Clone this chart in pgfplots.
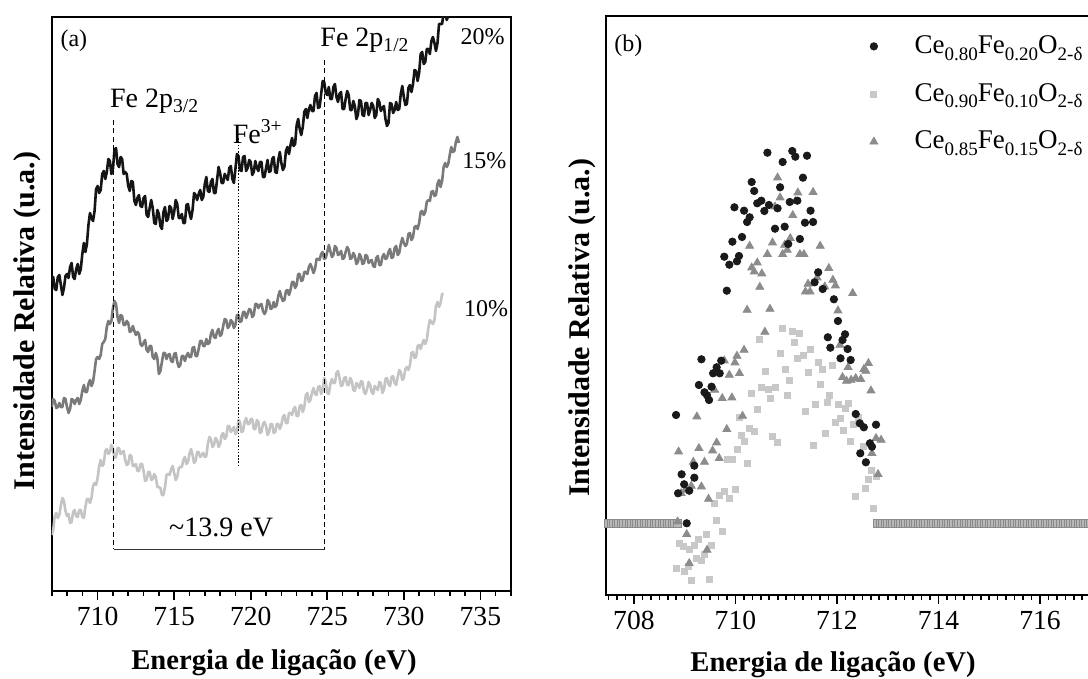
\documentclass[border=0pt]{standalone}
\usepackage{pgfplots}
\pgfplotsset{compat=1.18}
\usepackage{fontspec}
\setmainfont{Liberation Serif}
\definecolor{c20}{HTML}{151515}
\definecolor{c15}{HTML}{7A7A7A}
\definecolor{c10}{HTML}{C4C4C4}
\definecolor{csq}{HTML}{C8C8C8}
\definecolor{ctri}{HTML}{8C8C8C}
\definecolor{ccirc}{HTML}{1A1A1A}
\definecolor{cbase}{HTML}{B8B8B8}
\definecolor{cbaseedge}{HTML}{8A8A8A}
\newcommand{\lsub}[1]{\raisebox{-0.55ex}{\fontsize{9.5}{10}\selectfont #1}}
\begin{document}
\begin{tikzpicture}
\pgfplotsset{
  panel/.style={
    scale only axis,
    axis line style={line width=1pt},
    ytick=\empty,
    xtick pos=left,
    tick align=outside,
    major tick length=4.5pt,
    minor tick length=2.5pt,
    every tick/.append style={black, line width=0.8pt},
    tick label style={font=\fontsize{13.8}{16}\selectfont},
    xlabel style={font=\bfseries\fontsize{14.3}{17}\selectfont},
    ylabel style={font=\bfseries\fontsize{15}{18}\selectfont},
    /pgf/number format/assume math mode=true,
    /pgf/number format/1000 sep={},
  }
}
% ---------------- panel (a) ----------------
\begin{axis}[panel, at={(25.85pt,44pt)}, anchor=south west,
  width=229.65pt, height=287.15pt,
  xmin=707, xmax=737, ymin=1, ymax=575.3,
  xtick={710,715,...,735}, minor xtick={707,708,...,737},
  xlabel={Energia de ligação (eV)}, ylabel={Intensidade Relativa (u.a.)},
  xlabel style={at={(axis description cs:0.484,-0.136)}, anchor=base},
  ylabel style={at={(axis description cs:-0.0383,0.47)}, anchor=base},
]
\addplot[c10, line width=1.3pt, line join=round] coordinates {
(707.0,57)(707.1,62)(707.2,76)(707.3,79)(707.4,74)(707.5,77)(707.6,87)(707.7,94)(707.8,91)(707.9,81)
(708.0,76)(708.1,78)(708.2,69)(708.3,70)(708.4,80)(708.5,82)(708.6,76)(708.7,75)(708.8,82)(708.9,82)
(709.0,75)(709.1,74)(709.2,85)(709.3,93)(709.4,93)(709.5,89)(709.6,94)(709.7,106)(709.8,109)(709.9,107)
(710.0,114)(710.1,126)(710.2,132)(710.3,126)(710.4,128)(710.5,141)(710.6,143)(710.7,138)(710.8,140)(710.9,147)
(711.0,143)(711.1,134)(711.2,135)(711.3,144)(711.4,144)(711.5,138)(711.6,140)(711.7,141)(711.8,132)(711.9,127)
(712.0,128)(712.1,137)(712.2,136)(712.3,126)(712.4,126)(712.5,128)(712.6,121)(712.7,121)(712.8,128)(712.9,128)
(713.0,121)(713.1,111)(713.2,112)(713.3,120)(713.4,120)(713.5,112)(713.6,113)(713.7,118)(713.8,115)(713.9,105)
(714.0,105)(714.1,104)(714.2,97)(714.3,97)(714.4,105)(714.5,117)(714.6,118)(714.7,117)(714.8,123)(714.9,126)
(715.0,119)(715.1,112)(715.2,115)(715.3,124)(715.4,125)(715.5,125)(715.6,132)(715.7,135)(715.8,128)(715.9,130)
(716.0,138)(716.1,143)(716.2,137)(716.3,129)(716.4,131)(716.5,140)(716.6,140)(716.7,135)(716.8,137)(716.9,139)
(717.0,135)(717.1,136)(717.2,148)(717.3,155)(717.4,153)(717.5,145)(717.6,147)(717.7,154)(717.8,152)(717.9,145)
(718.0,148)(718.1,157)(718.2,159)(718.3,153)(718.4,155)(718.5,166)(718.6,166)(718.7,160)(718.8,162)(718.9,165)
(719.0,158)(719.1,160)(719.2,172)(719.3,170)(719.4,160)(719.5,161)(719.6,170)(719.7,174)(719.8,168)(719.9,168)
(720.0,173)(720.1,173)(720.2,163)(720.3,163)(720.4,172)(720.5,170)(720.6,159)(720.7,160)(720.8,168)(720.9,170)
(721.0,166)(721.1,157)(721.2,160)(721.3,168)(721.4,168)(721.5,159)(721.6,160)(721.7,168)(721.8,168)(721.9,163)
(722.0,167)(722.1,175)(722.2,177)(722.3,169)(722.4,169)(722.5,179)(722.6,179)(722.7,177)(722.8,183)(722.9,185)
(723.0,176)(723.1,176)(723.2,186)(723.3,187)(723.4,180)(723.5,185)(723.6,197)(723.7,199)(723.8,190)(723.9,192)
(724.0,199)(724.1,204)(724.2,198)(724.3,197)(724.4,205)(724.5,206)(724.6,198)(724.7,202)(724.8,214)(724.9,210)
(725.0,199)(725.1,198)(725.2,208)(725.3,213)(725.4,209)(725.5,209)(725.6,219)(725.7,221)(725.8,214)(725.9,206)
(726.0,207)(726.1,214)(726.2,215)(726.3,207)(726.4,207)(726.5,214)(726.6,211)(726.7,202)(726.8,201)(726.9,209)
(727.0,207)(727.1,204)(727.2,211)(727.3,210)(727.4,200)(727.5,198)(727.6,203)(727.7,210)(727.8,207)(727.9,200)
(728.0,198)(728.1,206)(728.2,204)(728.3,202)(728.4,210)(728.5,209)(728.6,199)(728.7,202)(728.8,213)(728.9,214)
(729.0,208)(729.1,206)(729.2,215)(729.3,216)(729.4,209)(729.5,207)(729.6,215)(729.7,222)(729.8,220)(729.9,212)
(730.0,214)(730.1,223)(730.2,225)(730.3,222)(730.4,227)(730.5,239)(730.6,240)(730.7,234)(730.8,235)(730.9,246)
(731.0,247)(731.1,243)(731.2,248)(731.3,252)(731.4,248)(731.5,252)(731.6,264)(731.7,272)(731.8,270)(731.9,268)
(732.0,272)(732.1,286)(732.2,290)(732.3,285)(732.4,289)(732.5,298)(732.6,298)};
\addplot[c15, line width=1.3pt, line join=round] coordinates {
(707.0,185)(707.1,193)(707.2,191)(707.3,184)(707.4,185)(707.5,189)(707.6,185)(707.7,185)(707.8,194)(707.9,193)
(708.0,185)(708.1,179)(708.2,183)(708.3,193)(708.4,192)(708.5,188)(708.6,192)(708.7,194)(708.8,188)(708.9,192)
(709.0,201)(709.1,207)(709.2,200)(709.3,200)(709.4,208)(709.5,212)(709.6,206)(709.7,210)(709.8,221)(709.9,233)
(710.0,235)(710.1,233)(710.2,237)(710.3,248)(710.4,250)(710.5,253)(710.6,265)(710.7,271)(710.8,268)(710.9,271)
(711.0,284)(711.1,291)(711.2,288)(711.3,275)(711.4,269)(711.5,277)(711.6,276)(711.7,267)(711.8,267)(711.9,271)
(712.0,269)(712.1,260)(712.2,261)(712.3,266)(712.4,261)(712.5,257)(712.6,260)(712.7,258)(712.8,248)(712.9,246)
(713.0,249)(713.1,252)(713.2,242)(713.3,240)(713.4,246)(713.5,246)(713.6,235)(713.7,233)(713.8,239)(713.9,234)
(714.0,218)(714.1,221)(714.2,230)(714.3,239)(714.4,239)(714.5,233)(714.6,237)(714.7,238)(714.8,231)(714.9,230)
(715.0,238)(715.1,239)(715.2,230)(715.3,225)(715.4,227)(715.5,236)(715.6,236)(715.7,231)(715.8,236)(715.9,239)
(716.0,235)(716.1,235)(716.2,244)(716.3,245)(716.4,236)(716.5,236)(716.6,243)(716.7,251)(716.8,251)(716.9,246)
(717.0,246)(717.1,253)(717.2,248)(717.3,249)(717.4,258)(717.5,262)(717.6,255)(717.7,254)(717.8,260)(717.9,263)
(718.0,256)(718.1,258)(718.2,266)(718.3,273)(718.4,272)(718.5,264)(718.6,266)(718.7,272)(718.8,270)(718.9,264)
(719.0,267)(719.1,277)(719.2,277)(719.3,270)(719.4,271)(719.5,280)(719.6,280)(719.7,274)(719.8,278)(719.9,283)
(720.0,282)(720.1,275)(720.2,277)(720.3,288)(720.4,288)(720.5,284)(720.6,287)(720.7,288)(720.8,281)(720.9,278)
(721.0,281)(721.1,292)(721.2,290)(721.3,283)(721.4,284)(721.5,290)(721.6,285)(721.7,287)(721.8,296)(721.9,301)
(722.0,295)(722.1,291)(722.2,292)(722.3,301)(722.4,302)(722.5,297)(722.6,302)(722.7,310)(722.8,310)(722.9,304)
(723.0,307)(723.1,318)(723.2,318)(723.3,311)(723.4,312)(723.5,320)(723.6,320)(723.7,318)(723.8,325)(723.9,328)
(724.0,324)(724.1,319)(724.2,323)(724.3,333)(724.4,333)(724.5,332)(724.6,338)(724.7,340)(724.8,333)(724.9,334)
(725.0,340)(725.1,347)(725.2,341)(725.3,335)(725.4,337)(725.5,346)(725.6,344)(725.7,337)(725.8,338)(725.9,341)
(726.0,333)(726.1,334)(726.2,340)(726.3,345)(726.4,342)(726.5,333)(726.6,334)(726.7,339)(726.8,336)(726.9,328)
(727.0,330)(727.1,338)(727.2,335)(727.3,328)(727.4,329)(727.5,337)(727.6,336)(727.7,329)(727.8,331)(727.9,332)
(728.0,326)(728.1,325)(728.2,334)(728.3,336)(728.4,327)(728.5,327)(728.6,335)(728.7,338)(728.8,333)(728.9,334)
(729.0,340)(729.1,343)(729.2,334)(729.3,335)(729.4,344)(729.5,346)(729.6,337)(729.7,339)(729.8,348)(729.9,354)
(730.0,349)(730.1,346)(730.2,348)(730.3,358)(730.4,359)(730.5,352)(730.6,355)(730.7,365)(730.8,366)(730.9,363)
(731.0,369)(731.1,380)(731.2,381)(731.3,377)(731.4,380)(731.5,390)(731.6,392)(731.7,391)(731.8,400)(731.9,401)
(732.0,396)(732.1,397)(732.2,408)(732.3,412)(732.4,405)(732.5,411)(732.6,425)(732.7,429)(732.8,425)(732.9,428)
(733.0,437)(733.1,445)(733.2,440)(733.3,441)(733.4,450)(733.5,455)(733.6,449)};
\addplot[c20, line width=1.3pt, line join=round] coordinates {
(707.0,311)(707.1,315)(707.2,303)(707.3,302)(707.4,315)(707.5,317)(707.6,307)(707.7,297)(707.8,304)(707.9,316)
(708.0,318)(708.1,314)(708.2,325)(708.3,329)(708.4,315)(708.5,313)(708.6,323)(708.7,328)(708.8,318)(708.9,323)
(709.0,338)(709.1,349)(709.2,340)(709.3,348)(709.4,367)(709.5,379)(709.6,374)(709.7,371)(709.8,381)(709.9,403)
(710.0,406)(710.1,399)(710.2,402)(710.3,418)(710.4,421)(710.5,413)(710.6,420)(710.7,433)(710.8,431)(710.9,418)
(711.0,423)(711.1,442)(711.2,444)(711.3,428)(711.4,425)(711.5,435)(711.6,433)(711.7,418)(711.8,420)(711.9,418)
(712.0,406)(712.1,401)(712.2,411)(712.3,410)(712.4,391)(712.5,387)(712.6,394)(712.7,397)(712.8,386)(712.9,385)
(713.0,394)(713.1,396)(713.2,377)(713.3,375)(713.4,384)(713.5,392)(713.6,384)(713.7,369)(713.8,368)(713.9,382)
(714.0,378)(714.1,366)(714.2,363)(714.3,380)(714.4,385)(714.5,371)(714.6,373)(714.7,386)(714.8,384)(714.9,373)
(715.0,380)(715.1,392)(715.2,388)(715.3,374)(715.4,374)(715.5,378)(715.6,369)(715.7,369)(715.8,387)(715.9,388)
(716.0,379)(716.1,373)(716.2,382)(716.3,399)(716.4,397)(716.5,392)(716.6,398)(716.7,402)(716.8,392)(716.9,395)
(717.0,408)(717.1,415)(717.2,401)(717.3,400)(717.4,410)(717.5,413)(717.6,399)(717.7,399)(717.8,412)(717.9,425)
(718.0,419)(718.1,409)(718.2,409)(718.3,418)(718.4,415)(718.5,412)(718.6,424)(718.7,426)(718.8,413)(718.9,409)
(719.0,423)(719.1,438)(719.2,436)(719.3,422)(719.4,421)(719.5,435)(719.6,436)(719.7,421)(719.8,424)(719.9,432)
(720.0,430)(720.1,417)(720.2,420)(720.3,431)(720.4,424)(720.5,421)(720.6,430)(720.7,430)(720.8,415)(720.9,415)
(721.0,424)(721.1,432)(721.2,420)(721.3,421)(721.4,433)(721.5,435)(721.6,420)(721.7,419)(721.8,432)(721.9,440)
(722.0,429)(722.1,422)(722.2,425)(722.3,441)(722.4,445)(722.5,438)(722.6,447)(722.7,454)(722.8,446)(722.9,448)
(723.0,467)(723.1,473)(723.2,463)(723.3,457)(723.4,465)(723.5,480)(723.6,483)(723.7,474)(723.8,483)(723.9,487)
(724.0,481)(724.1,481)(724.2,496)(724.3,499)(724.4,484)(724.5,485)(724.6,498)(724.7,511)(724.8,510)(724.9,499)
(725.0,497)(725.1,505)(725.2,493)(725.3,493)(725.4,505)(725.5,508)(725.6,495)(725.7,490)(725.8,498)(725.9,500)
(726.0,483)(726.1,483)(726.2,493)(726.3,501)(726.4,497)(726.5,482)(726.6,482)(726.7,491)(726.8,486)(726.9,473)
(727.0,477)(727.1,492)(727.2,491)(727.3,477)(727.4,476)(727.5,489)(727.6,489)(727.7,477)(727.8,482)(727.9,489)
(728.0,486)(728.1,474)(728.2,477)(728.3,493)(728.4,490)(728.5,481)(728.6,484)(728.7,486)(728.8,473)(728.9,466)
(729.0,469)(729.1,489)(729.2,488)(729.3,479)(729.4,482)(729.5,490)(729.6,482)(729.7,483)(729.8,498)(729.9,506)
(730.0,495)(730.1,487)(730.2,488)(730.3,504)(730.4,507)(730.5,500)(730.6,508)(730.7,522)(730.8,521)(730.9,511)
(731.0,519)(731.1,538)(731.2,540)(731.3,528)(731.4,530)(731.5,543)(731.6,543)(731.7,538)(731.8,551)(731.9,555)
(732.0,549)(732.1,541)(732.2,549)(732.3,568)(732.4,568)(732.5,568)(732.6,579)(732.7,583)(732.8,572)(732.9,576)
(733.0,589)};
% reference lines
\addplot[black, line width=0.6pt, dash pattern=on 2.5pt off 1.7pt] coordinates {(711.06,472)(711.06,42.7)};
\addplot[black, line width=0.6pt, dash pattern=on 2.5pt off 1.7pt] coordinates {(724.84,532)(724.84,42.7)};
\addplot[black, line width=0.5pt, dash pattern=on 0.8pt off 0.8pt] coordinates {(719.23,453.7)(719.23,125.3)};
\addplot[black!80, line width=0.6pt] coordinates {(711.06,42.7)(724.84,42.7)};
\node[font=\fontsize{12}{14}\selectfont] at (axis cs:708.45,551.5) {(a)};
\node[anchor=base west, font=\fontsize{14}{16}\selectfont, inner sep=0pt] at (axis cs:710.79,484.3) {Fe 2p\textsubscript{3/2}};
\node[anchor=base west, font=\fontsize{14}{16}\selectfont, inner sep=0pt] at (axis cs:718.81,448.7) {Fe\textsuperscript{3+}};
\node[anchor=base west, font=\fontsize{14}{16}\selectfont, inner sep=0pt] at (axis cs:724.53,545.3) {Fe 2p\textsubscript{1/2}};
\node[anchor=base west, font=\fontsize{14}{16}\selectfont, inner sep=0pt] at (axis cs:714.65,55.3) {\textasciitilde13.9 eV};
\node[anchor=base west, font=\fontsize{12}{14}\selectfont, inner sep=0pt] at (axis cs:733.68,547.3) {20\%};
\node[anchor=base west, font=\fontsize{12}{14}\selectfont, inner sep=0pt] at (axis cs:733.8,423) {15\%};
\node[anchor=base west, font=\fontsize{12}{14}\selectfont, inner sep=0pt] at (axis cs:733.92,275.3) {10\%};
\end{axis}
% ---------------- panel (b) ----------------
\begin{axis}[panel, at={(303pt,42pt)}, anchor=south west,
  width=244.9pt, height=289.3pt,
  xmin=707.45, xmax=717.1, ymin=0, ymax=578.6,
  xtick={708,710,...,716}, minor xtick={707.5,707.6666667,...,717.1},
  xlabel={Energia de ligação (eV)}, ylabel={Intensidade Relativa (u.a.)},
  xlabel style={at={(axis description cs:0.4635,-0.133)}, anchor=base},
  ylabel style={at={(axis description cs:-0.034,0.462)}, anchor=base},
  legend style={at={(axis description cs:0.531,0.9748)}, anchor=north west,
    draw=none, fill=none, inner sep=0pt,
    font=\fontsize{13.5}{16}\selectfont,
    nodes={inner sep=0pt, text height=11pt, text depth=4pt},
    row sep=8.85pt,
    /tikz/every odd column/.style={column sep=0pt}},
  legend cell align=left,
  legend image code/.code={\path (0pt,0pt) (23.7pt,0pt); \draw[#1] plot coordinates {(3.5pt,0pt)};},
]
\addlegendimage{only marks, mark=*, mark size=1.85pt, color=ccirc}
\addlegendentry{Ce\lsub{0.80}Fe\lsub{0.20}O\lsub{2-δ}}
\addlegendimage{only marks, mark=square*, mark size=1.5pt, color=csq}
\addlegendentry{Ce\lsub{0.90}Fe\lsub{0.10}O\lsub{2-δ}}
\addlegendimage{only marks, mark=triangle*, mark size=2.3pt, color=ctri}
\addlegendentry{Ce\lsub{0.85}Fe\lsub{0.15}O\lsub{2-δ}}
% baseline (zero) region
\addplot[forget plot, only marks, mark=square*, mark size=2pt, mark options={fill=cbase, draw=cbaseedge, line width=0.3pt}] coordinates {
(707.50,72)(707.55,72)(707.60,72)(707.65,72)(707.70,72)(707.75,72)(707.80,72)(707.85,72)(707.90,72)(707.95,72)
(708.00,72)(708.05,72)(708.10,72)(708.15,72)(708.20,72)(708.25,72)(708.30,72)(708.35,72)(708.40,72)(708.45,72)
(708.50,72)(708.55,72)(708.60,72)(708.65,72)(708.70,72)(708.75,72)(708.80,72)(708.85,72)
(712.80,72)(712.85,72)(712.90,72)(712.95,72)(713.00,72)(713.05,72)(713.10,72)(713.15,72)(713.20,72)(713.25,72)
(713.30,72)(713.35,72)(713.40,72)(713.45,72)(713.50,72)(713.55,72)(713.60,72)(713.65,72)(713.70,72)(713.75,72)
(713.80,72)(713.85,72)(713.90,72)(713.95,72)(714.00,72)(714.05,72)(714.10,72)(714.15,72)(714.20,72)(714.25,72)
(714.30,72)(714.35,72)(714.40,72)(714.45,72)(714.50,72)(714.55,72)(714.60,72)(714.65,72)(714.70,72)(714.75,72)
(714.80,72)(714.85,72)(714.90,72)(714.95,72)(715.00,72)(715.05,72)(715.10,72)(715.15,72)(715.20,72)(715.25,72)
(715.30,72)(715.35,72)(715.40,72)(715.45,72)(715.50,72)(715.55,72)(715.60,72)(715.65,72)(715.70,72)(715.75,72)
(715.80,72)(715.85,72)(715.90,72)(715.95,72)(716.00,72)(716.05,72)(716.10,72)(716.15,72)(716.20,72)(716.25,72)
(716.30,72)(716.35,72)(716.40,72)(716.45,72)(716.50,72)(716.55,72)(716.60,72)(716.65,72)(716.70,72)(716.75,72)
(716.80,72)(716.85,72)(716.90,72)(716.95,72)(717.00,72)(717.05,72)(717.10,72)};
% Ce0.90Fe0.10
\addplot[forget plot, only marks, mark=square*, mark size=1.5pt, color=csq] coordinates {
(710.93,266.7)(711.13,263.3)(711.27,261.7)(710.48,255.7)(711.17,252.7)(711.48,245.7)(710.88,241.7)(711.33,240)(711.22,236.7)(711.63,233)
(711.72,225.7)(711.91,230)(710.59,223.3)(710.98,225.7)(711.43,222.7)(711.07,214.3)(711.68,210.7)(710.52,207.7)(710.65,205.7)(710.78,207.7)
(710.32,201.7)(710.68,197)(711.02,200)(711.86,200)(711.81,192.3)(712.02,190.7)(712.22,191.7)(712.17,186.3)(711.58,190.7)(710.43,185.7)
(711.38,184)(710.08,177.7)(712.07,176.7)(711.97,172.3)(712.32,171)(712.42,177.7)(712.13,164.3)(710.28,166.7)(710.37,163.3)(710.12,159.3)
(710.73,158.3)(711.78,161.7)(710.18,153.3)(710.83,152.3)(711.53,150)(712.27,153.3)(710.03,146)(709.84,135.7)(709.94,135.7)(710.24,131.3)
(712.53,149)(712.67,124.3)(712.77,118.3)(712.62,115.7)(712.57,106.7)(712.37,99)(712.72,86.7)(709.99,106)(709.79,103.3)(709.69,99.7)
(709.89,96.3)(709.59,91.7)(709.63,75)(709.74,64)(709.43,61)(709.28,56)(708.89,51.7)(708.97,49)(709.09,46)(709.19,49.7)
(709.53,49.7)(709.23,36.7)(709.33,34.3)(709.38,41)(708.83,26.7)(708.99,23.3)(709.07,29)(709.13,15)(709.48,16)};
% Ce0.85Fe0.15
\addplot[forget plot, only marks, mark=triangle*, mark size=2.3pt, color=ctri] coordinates {
(710.83,417.3)(711.23,402.3)(711.53,402.7)(710.88,397.3)(711.18,393.7)(710.78,388.3)(711.13,379.7)(711.08,356.7)(710.28,349)(710.73,352.3)
(710.97,350)(711.02,345)(711.67,349)(710.63,340.7)(710.93,340.7)(711.27,340.7)(711.35,340.7)(710.43,332.3)(710.32,327.3)(710.37,323.3)
(710.52,321.3)(711.84,326.7)(711.61,317.3)(711.92,315)(711.43,311)(711.97,309.3)(710.48,308)(711.76,308.3)(711.38,303.3)(711.47,303.3)
(712.31,301.7)(710.23,285)(710.68,286)(712.02,284.3)(710.58,263)(710.17,245)(710.03,239)(709.78,234.3)(709.99,232.3)(709.88,220)
(710.08,221.7)(712.06,250)(712.22,227.7)(712.62,231.7)(712.53,225.7)(712.57,224)(712.11,217.7)(712.19,214)(712.28,215)(712.37,216.7)
(712.47,215.7)(712.67,204.3)(709.59,205)(709.74,196.7)(709.93,197.3)(709.24,178.3)(710.14,179)(709.83,165.7)(709.63,152.3)(712.77,156.7)
(712.87,155)(708.88,143.3)(709.28,146.7)(709.55,144.3)(709.39,133)(709.68,136.7)(709.17,133)(709.33,108.3)(709.13,109)(709.01,105)
(708.93,101.7)(709.47,96)(712.69,141.7)(712.81,120.7)(709.04,60.7)(709.44,45)(709.09,31.7)(708.86,73.3)};
% Ce0.80Fe0.20
\addplot[forget plot, only marks, mark=*, mark size=1.85pt, color=ccirc] coordinates {
(710.63,442.3)(711.12,444)(711.18,438.3)(711.41,439.3)(710.93,433)(711.33,417.3)(710.32,413)(710.88,407.7)(710.37,404)(710.51,394.3)
(710.43,391.7)(710.66,390)(710.83,386.7)(710.57,384)(711.07,393)(711.22,394.3)(711.48,384.3)(709.98,387.7)(710.17,384.3)(710.28,377.7)
(710.23,373)(711.37,372.3)(711.53,373)(710.78,366.3)(710.97,368.3)(710.13,358)(709.94,353.3)(711.27,356)(711.04,351)(709.78,338.3)
(710.07,339)(709.88,330.3)(710.03,333.7)(711.63,322.7)(711.56,312.7)(709.83,304.3)(711.72,306)(711.94,295.7)(712.02,274)(712.16,260.7)
(711.82,257.7)(712.11,255)(711.87,247.3)(712.21,246)(712.07,236.7)(712.27,235)(709.33,235.7)(709.72,234.3)(709.63,227.7)(709.56,221.7)
(709.69,221.7)(709.28,210)(709.53,208.3)(709.39,202.7)(709.44,199.7)(709.48,195)(708.83,180)(712.37,181)(712.45,171.7)(712.53,167.7)
(712.77,170.3)(712.65,151.7)(712.69,148.3)(712.46,141.7)(712.57,132.7)(708.94,120.7)(709.19,129.3)(709.19,117.3)(708.99,110.7)(709.09,104.3)
(708.87,101.7)(709.04,71.7)};
\node[font=\fontsize{12}{14}\selectfont] at (axis cs:707.89,549.5) {(b)};
\end{axis}
\pgfresetboundingbox
\useasboundingbox (0,0) rectangle (544pt,339.5pt);
\end{tikzpicture}
\end{document}
